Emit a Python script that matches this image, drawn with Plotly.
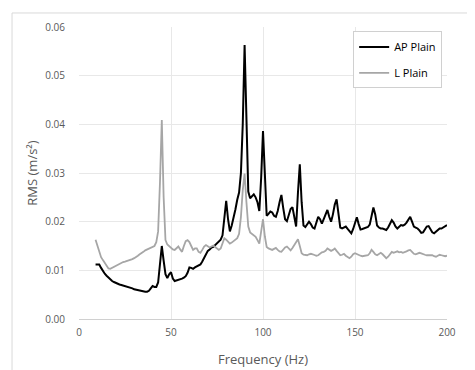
import plotly.graph_objects as go

freq = list(range(9, 201))

ap_plain = [
    0.0112, 0.0112, 0.0112, 0.0105, 0.0098, 0.0093, 0.0089, 0.0085, 0.0081, 0.0078,  # 9-18
    0.0076, 0.0074, 0.0072, 0.0071, 0.0070, 0.0069, 0.0068, 0.0066, 0.0065, 0.0064,  # 19-28
    0.0063, 0.0061, 0.0060, 0.0059, 0.0058, 0.0057, 0.0057, 0.0056, 0.0056, 0.0058,  # 29-38
    0.0063, 0.0068, 0.0066, 0.0066, 0.0075, 0.0110, 0.0150, 0.0120, 0.0092, 0.0084,  # 39-48
    0.0092, 0.0096, 0.0083, 0.0078, 0.0079, 0.0080, 0.0081, 0.0083, 0.0085, 0.0088,  # 49-58
    0.0095, 0.0106, 0.0105, 0.0103, 0.0106, 0.0108, 0.0110, 0.0112, 0.0118, 0.0125,  # 59-68
    0.0134, 0.0140, 0.0143, 0.0147, 0.0148, 0.0152, 0.0156, 0.0160, 0.0163, 0.0172,  # 69-78
    0.0205, 0.0243, 0.0205, 0.0180, 0.0192, 0.0207, 0.0225, 0.0245, 0.0260, 0.0300,  # 79-88
    0.0400, 0.0563, 0.0380, 0.0262, 0.0248, 0.0252, 0.0256, 0.0250, 0.0240, 0.0222,  # 89-98
    0.0290, 0.0386, 0.0280, 0.0212, 0.0216, 0.0221, 0.0219, 0.0212, 0.0210, 0.0222,  # 99-108
    0.0240, 0.0255, 0.0228, 0.0205, 0.0201, 0.0212, 0.0226, 0.0230, 0.0205, 0.0190,  # 109-118
    0.0260, 0.0318, 0.0240, 0.0192, 0.0189, 0.0195, 0.0200, 0.0195, 0.0188, 0.0186,  # 119-128
    0.0197, 0.0210, 0.0205, 0.0196, 0.0205, 0.0215, 0.0224, 0.0210, 0.0200, 0.0215,  # 129-138
    0.0235, 0.0246, 0.0215, 0.0188, 0.0186, 0.0188, 0.0190, 0.0185, 0.0180, 0.0176,  # 139-148
    0.0185, 0.0200, 0.0209, 0.0195, 0.0184, 0.0185, 0.0186, 0.0187, 0.0189, 0.0194,  # 149-158
    0.0210, 0.0229, 0.0215, 0.0192, 0.0188, 0.0186, 0.0186, 0.0184, 0.0183, 0.0188,  # 159-168
    0.0197, 0.0203, 0.0198, 0.0190, 0.0186, 0.0189, 0.0193, 0.0192, 0.0194, 0.0198,  # 169-178
    0.0205, 0.0210, 0.0200, 0.0190, 0.0188, 0.0186, 0.0182, 0.0177, 0.0178, 0.0184,  # 179-188
    0.0190, 0.0191, 0.0185, 0.0178, 0.0176, 0.0180, 0.0184, 0.0186, 0.0186, 0.0188,  # 189-198
    0.0190, 0.0193,  # 199-200
]

l_plain = [
    0.0163, 0.0150, 0.0135, 0.0127, 0.0121, 0.0115, 0.0108, 0.0104, 0.0103, 0.0105,  # 9-18
    0.0107, 0.0110, 0.0112, 0.0114, 0.0116, 0.0117, 0.0118, 0.0119, 0.0121, 0.0122,  # 19-28
    0.0123, 0.0125, 0.0127, 0.0130, 0.0133, 0.0135, 0.0138, 0.0141, 0.0143, 0.0145,  # 29-38
    0.0147, 0.0149, 0.0150, 0.0158, 0.0180, 0.0280, 0.0409, 0.0250, 0.0162, 0.0153,  # 39-48
    0.0149, 0.0146, 0.0143, 0.0142, 0.0146, 0.0149, 0.0143, 0.0138, 0.0150, 0.0160,  # 49-58
    0.0162, 0.0158, 0.0150, 0.0142, 0.0145, 0.0145, 0.0138, 0.0136, 0.0142, 0.0149,  # 59-68
    0.0152, 0.0150, 0.0147, 0.0149, 0.0151, 0.0148, 0.0144, 0.0142, 0.0145, 0.0155,  # 69-78
    0.0166, 0.0163, 0.0158, 0.0155, 0.0157, 0.0160, 0.0164, 0.0166, 0.0175, 0.0210,  # 79-88
    0.0265, 0.0299, 0.0240, 0.0190, 0.0178, 0.0175, 0.0172, 0.0169, 0.0162, 0.0155,  # 89-98
    0.0180, 0.0205, 0.0170, 0.0148, 0.0145, 0.0143, 0.0142, 0.0144, 0.0146, 0.0142,  # 99-108
    0.0139, 0.0138, 0.0143, 0.0147, 0.0149, 0.0145, 0.0141, 0.0146, 0.0152, 0.0158,  # 109-118
    0.0164, 0.0150, 0.0135, 0.0132, 0.0131, 0.0131, 0.0133, 0.0134, 0.0133, 0.0131,  # 119-128
    0.0130, 0.0131, 0.0134, 0.0137, 0.0138, 0.0140, 0.0145, 0.0143, 0.0140, 0.0142,  # 129-138
    0.0145, 0.0140, 0.0135, 0.0131, 0.0132, 0.0134, 0.0130, 0.0127, 0.0125, 0.0128,  # 139-148
    0.0133, 0.0135, 0.0133, 0.0131, 0.0130, 0.0129, 0.0130, 0.0131, 0.0131, 0.0135,  # 149-158
    0.0142, 0.0138, 0.0133, 0.0131, 0.0134, 0.0136, 0.0133, 0.0128, 0.0125, 0.0128,  # 159-168
    0.0133, 0.0138, 0.0136, 0.0137, 0.0139, 0.0137, 0.0138, 0.0136, 0.0137, 0.0139,  # 169-178
    0.0141, 0.0142, 0.0138, 0.0134, 0.0133, 0.0134, 0.0136, 0.0135, 0.0133, 0.0132,  # 179-188
    0.0131, 0.0131, 0.0132, 0.0131, 0.0129, 0.0128, 0.0130, 0.0132, 0.0131, 0.0130,  # 189-198
    0.0129, 0.0130,  # 199-200
]

x_ticks = [0, 50, 100, 150, 200]
y_ticks = [0.00, 0.01, 0.02, 0.03, 0.04, 0.05, 0.06]

FONT = "Open Sans"
TXT = "#595959"
GRID = "#e8e8e8"

fig = go.Figure()
fig.add_trace(go.Scatter(x=freq, y=ap_plain, mode="lines", name="AP Plain",
                         legendgroup="ap", line=dict(color="#000000", width=2)))
fig.add_trace(go.Scatter(x=freq, y=l_plain, mode="lines", name="L Plain",
                         legendgroup="l", line=dict(color="#a6a6a6", width=1.8)))

# page body adds an 8px offset, so the figure is 8px smaller than the window
fig.update_layout(
    width=467, height=362,
    margin=dict(l=71, r=28, t=19, b=51),
    paper_bgcolor="white", plot_bgcolor="white",
    font=dict(family=FONT, size=10, color=TXT),
    showlegend=True,
    legend=dict(x=0.745, y=0.985, xanchor="left", yanchor="top",
                bordercolor="#d0d0d0", borderwidth=1, bgcolor="white",
                font=dict(family=FONT, size=11, color="#000000"),
                tracegroupgap=7, itemwidth=30),
    shapes=[dict(type="rect", xref="paper", yref="paper",
                 x0=-0.182, x1=1.2, y0=-0.3, y1=1.048,
                 line=dict(color="#d9d9d9", width=1), layer="below")],
)
fig.update_xaxes(range=[0, 200], tickvals=x_ticks, showgrid=True, gridcolor=GRID,
                 gridwidth=1, zeroline=False, showline=True, linecolor="#d0d0d0",
                 ticks="", ticklabelstandoff=4, automargin=False,
                 tickfont=dict(size=10, color=TXT),
                 title=dict(text="Frequency (Hz)", font=dict(size=13, color=TXT), standoff=16))
fig.update_yaxes(range=[0, 0.06], tickvals=y_ticks, tickformat=".2f", showgrid=True,
                 gridcolor=GRID, gridwidth=1, zeroline=False, showline=False,
                 ticks="", ticklabelstandoff=13, automargin=False,
                 tickfont=dict(size=10, color=TXT),
                 title=dict(text="RMS (m/s²)", font=dict(size=13, color=TXT), standoff=4))

fig.write_html("out.html")
